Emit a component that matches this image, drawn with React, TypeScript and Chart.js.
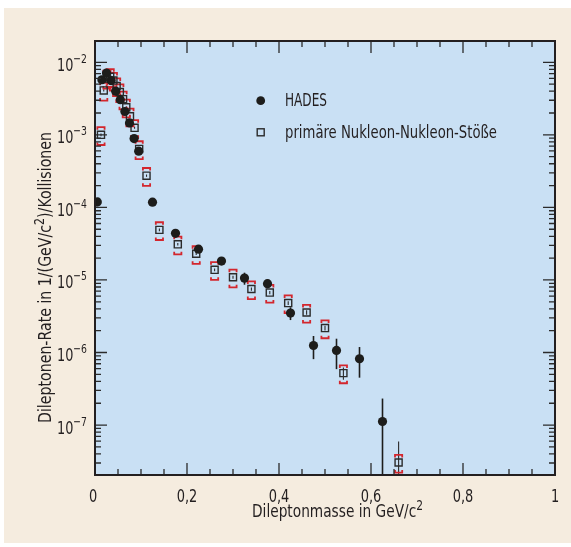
import React, { useEffect, useRef } from "react";
import { Chart, registerables } from "chart.js";

Chart.register(...registerables);

const FONT = '"Liberation Sans Narrow", "Arial Narrow", "DejaVu Sans Condensed", sans-serif';
const TEXT = "#231f20";
const PLOT_BG = "#c9e0f4";
const PAGE_BG = "#f5ecdf";
const RED = "#d3262d";
const DARK = "#1d1d1b";

// HADES measurement
const hadesMass = [0.005, 0.015, 0.025, 0.035, 0.045, 0.055, 0.065, 0.075, 0.085, 0.095, 0.125, 0.175, 0.225, 0.275, 0.325, 0.375, 0.425, 0.475, 0.525, 0.575, 0.625];
const hadesRate = [1.19e-4, 5.75e-3, 7.1e-3, 5.6e-3, 4.0e-3, 3.05e-3, 2.1e-3, 1.46e-3, 8.9e-4, 5.95e-4, 1.18e-4, 4.4e-5, 2.66e-5, 1.82e-5, 1.06e-5, 8.9e-6, 3.5e-6, 1.25e-6, 1.07e-6, 8.2e-7, 1.12e-7];
const hadesErr = [1.5e-5, 3e-4, 3e-4, 3e-4, 2e-4, 1.5e-4, 1e-4, 8e-5, 5e-5, 4e-5, 1e-5, 5e-6, 3e-6, 2e-6, 2e-6, 1.2e-6, 7e-7, 4.4e-7, 4.8e-7, 3.7e-7, 1.2e-7];

// primary nucleon-nucleon collisions (simulation)
const simMass = [0.013, 0.019, 0.026, 0.033, 0.04, 0.047, 0.054, 0.061, 0.068, 0.076, 0.086, 0.096, 0.112, 0.14, 0.18, 0.22, 0.26, 0.3, 0.34, 0.38, 0.42, 0.46, 0.5, 0.54, 0.66];
const simRate = [1.0e-3, 4.1e-3, 6.0e-3, 6.3e-3, 5.6e-3, 4.7e-3, 3.9e-3, 3.1e-3, 2.4e-3, 1.8e-3, 1.25e-3, 6.4e-4, 2.74e-4, 4.9e-5, 3.1e-5, 2.3e-5, 1.38e-5, 1.09e-5, 7.5e-6, 6.7e-6, 4.8e-6, 3.56e-6, 2.17e-6, 5.2e-7, 3.05e-8];
const simErr = [4e-5, 1.5e-4, 2e-4, 2e-4, 2e-4, 1.6e-4, 1.3e-4, 1e-4, 8e-5, 6e-5, 4e-5, 2.2e-5, 1e-5, 2e-6, 1.2e-6, 9e-7, 6e-7, 5e-7, 4e-7, 3.5e-7, 3e-7, 2.5e-7, 1.6e-7, 1e-7, 2.9e-8];
const SIM_SYS = 0.275;

const xTickValues = [0, 0.2, 0.4, 0.6, 0.8, 1];
const xTickLabels = ["0", "0,2", "0,4", "0,6", "0,8", "1"];
const yDecades = [-7, -6, -5, -4, -3, -2];
const X_MIN = 0;
const X_MAX = 1;
const Y_MIN = 2.05e-8;
const Y_MAX = 1.966e-2;

const xTitle = ["Dileptonmasse in GeV/c", "2"];
const yTitle = ["Dileptonen-Rate in 1/(GeV/c", "2", ")/Kollisionen"];
const legendLabels = ["HADES", "primäre Nukleon-Nukleon-Stöße"];

type Part = { t: string; size: number; rise: number };

function partsWidth(ctx: CanvasRenderingContext2D, parts: Part[]) {
  let w = 0;
  for (const p of parts) {
    ctx.font = `${p.size}px ${FONT}`;
    w += ctx.measureText(p.t).width;
  }
  return w;
}

// draws text parts starting at x (left) on baseline y, squeezed/stretched to target width
function drawParts(ctx: CanvasRenderingContext2D, parts: Part[], x: number, y: number, target?: number) {
  const w = partsWidth(ctx, parts);
  const sx = target ? target / w : 1;
  ctx.save();
  ctx.translate(x, y);
  ctx.scale(sx, 1);
  ctx.textAlign = "left";
  ctx.textBaseline = "alphabetic";
  ctx.fillStyle = TEXT;
  let cx = 0;
  for (const p of parts) {
    ctx.font = `${p.size}px ${FONT}`;
    ctx.fillText(p.t, cx, -p.rise);
    cx += ctx.measureText(p.t).width;
  }
  ctx.restore();
}

const SQUEEZE = 0.8;

const decor = {
  id: "decor",
  beforeDraw(chart: any) {
    const { ctx, chartArea: a } = chart;
    ctx.save();
    ctx.fillStyle = PLOT_BG;
    ctx.fillRect(a.left, a.top, a.right - a.left, a.bottom - a.top);
    ctx.restore();
  },
  beforeDatasetsDraw(chart: any) {
    const { ctx, chartArea: a } = chart;
    const xs = chart.scales.x;
    const ys = chart.scales.y;
    const yPix = (v: number) => (v <= Y_MIN ? a.bottom : ys.getPixelForValue(v));
    ctx.save();
    ctx.beginPath();
    ctx.rect(a.left, a.top, a.right - a.left, a.bottom - a.top);
    ctx.clip();
    // HADES statistical errors
    ctx.strokeStyle = DARK;
    ctx.lineWidth = 1.6;
    hadesMass.forEach((m, i) => {
      const px = xs.getPixelForValue(m);
      ctx.beginPath();
      ctx.moveTo(px, yPix(hadesRate[i] + hadesErr[i]));
      ctx.lineTo(px, yPix(hadesRate[i] - hadesErr[i]));
      ctx.stroke();
    });
    // simulation statistical errors
    ctx.strokeStyle = "#2b2b2b";
    ctx.lineWidth = 1.1;
    simMass.forEach((m, i) => {
      const px = xs.getPixelForValue(m);
      ctx.beginPath();
      ctx.moveTo(px, yPix(simRate[i] + simErr[i]));
      ctx.lineTo(px, yPix(simRate[i] - simErr[i]));
      ctx.stroke();
    });
    // simulation systematic brackets
    ctx.strokeStyle = RED;
    ctx.lineWidth = 1.8;
    simMass.forEach((m, i) => {
      const px = xs.getPixelForValue(m);
      const top = yPix(simRate[i] * (1 + SIM_SYS));
      const bot = yPix(simRate[i] * (1 - SIM_SYS));
      const hw = 3.6;
      const h = 2.6;
      ctx.beginPath();
      ctx.moveTo(px - hw, top + h);
      ctx.lineTo(px - hw, top);
      ctx.lineTo(px + hw, top);
      ctx.lineTo(px + hw, top + h);
      ctx.moveTo(px - hw, bot - h);
      ctx.lineTo(px - hw, bot);
      ctx.lineTo(px + hw, bot);
      ctx.lineTo(px + hw, bot - h);
      ctx.stroke();
    });
    ctx.restore();
  },
  afterDraw(chart: any) {
    const { ctx, chartArea: a } = chart;
    const xs = chart.scales.x;
    const ys = chart.scales.y;
    ctx.save();
    // ticks (inward)
    ctx.strokeStyle = "#2b2b2b";
    ctx.lineWidth = 1.3;
    ctx.beginPath();
    for (let d = -8; d <= -2; d++) {
      for (let m = 1; m <= 9; m++) {
        const v = m * Math.pow(10, d);
        if (v < Y_MIN || v > Y_MAX) continue;
        const py = ys.getPixelForValue(v);
        const len = m === 1 ? 12 : 6;
        ctx.moveTo(a.left, py);
        ctx.lineTo(a.left + len, py);
        ctx.moveTo(a.right, py);
        ctx.lineTo(a.right - len, py);
      }
    }
    for (let i = 0; i <= 20; i++) {
      const v = i * 0.05;
      const px = xs.getPixelForValue(v);
      const len = i % 4 === 0 ? 12 : 6;
      ctx.moveTo(px, a.bottom);
      ctx.lineTo(px, a.bottom - len);
      ctx.moveTo(px, a.top);
      ctx.lineTo(px, a.top + len);
    }
    ctx.stroke();
    // frame
    ctx.strokeStyle = "#231f20";
    ctx.lineWidth = 2;
    ctx.strokeRect(a.left, a.top, a.right - a.left, a.bottom - a.top);

    // y tick labels 10^n
    for (const t of ys.ticks) {
      const e = Math.round(Math.log10(t.value));
      const py = ys.getPixelForValue(t.value);
      const parts: Part[] = [
        { t: "10", size: 18, rise: 0 },
        { t: "\u2212" + Math.abs(e), size: 13, rise: 8 },
      ];
      drawParts(ctx, parts, 57, py + 8.5, 30);
    }

    // x tick labels
    xs.ticks.forEach((t: any, i: number) => {
      const px = xs.getPixelForValue(t.value);
      const label = xTickLabels[xTickValues.indexOf(t.value)] ?? String(t.value);
      const parts: Part[] = [{ t: label, size: 18, rise: 0 }];
      const w = partsWidth(ctx, parts) * SQUEEZE;
      drawParts(ctx, parts, px - w / 2 - (i === 0 ? 2 : 0), 502, w);
    });

    // axis titles
    drawParts(
      ctx,
      [
        { t: xTitle[0], size: 18, rise: 0 },
        { t: xTitle[1], size: 14, rise: 7 },
      ],
      252,
      516.5,
      171
    );
    ctx.save();
    ctx.translate(51, 423);
    ctx.rotate(-Math.PI / 2);
    drawParts(
      ctx,
      [
        { t: yTitle[0], size: 18, rise: 0 },
        { t: yTitle[1], size: 14, rise: 7 },
        { t: yTitle[2], size: 18, rise: 0 },
      ],
      0,
      0,
      291
    );
    ctx.restore();

    // legend
    const ds0 = chart.data.datasets[0];
    const ds1 = chart.data.datasets[1];
    ctx.fillStyle = ds0.backgroundColor;
    ctx.beginPath();
    ctx.arc(260.7, 100.7, 4.4, 0, Math.PI * 2);
    ctx.fill();
    ctx.strokeStyle = ds1.borderColor;
    ctx.lineWidth = 1.4;
    ctx.strokeRect(257.2, 128.8, 7, 7);
    drawParts(ctx, [{ t: legendLabels[0], size: 18, rise: 0 }], 285, 105.5, 42);
    drawParts(ctx, [{ t: legendLabels[1], size: 18, rise: 0 }], 285, 137.5, 212);
    ctx.restore();
  },
};

export default function App() {
  const ref = useRef<HTMLCanvasElement>(null);
  useEffect(() => {
    if (!ref.current) return;
    const chart = new Chart(ref.current, {
      type: "scatter",
      data: {
        datasets: [
          {
            label: legendLabels[0],
            data: hadesMass.map((m, i) => ({ x: m, y: hadesRate[i] })),
            pointStyle: "circle",
            pointRadius: 4.6,
            pointHoverRadius: 4.6,
            backgroundColor: DARK,
            borderColor: DARK,
            borderWidth: 0,
          },
          {
            label: legendLabels[1],
            data: simMass.map((m, i) => ({ x: m, y: simRate[i] })),
            pointStyle: "rect",
            pointRadius: 5,
            pointHoverRadius: 5,
            backgroundColor: "rgba(0,0,0,0)",
            borderColor: "#2b2b2b",
            borderWidth: 1.4,
          },
        ],
      },
      options: {
        responsive: false,
        animation: false,
        devicePixelRatio: 1,
        layout: { padding: { left: 0, top: 41, right: 16, bottom: 0 } },
        plugins: { legend: { display: false }, tooltip: { enabled: false } },
        scales: {
          x: {
            type: "linear",
            min: X_MIN,
            max: X_MAX,
            grid: { display: false },
            border: { display: false },
            afterBuildTicks: (s: any) => {
              s.ticks = xTickValues.map((v) => ({ value: v }));
            },
            ticks: { display: false },
            afterFit: (s: any) => {
              s.height = 72;
            },
          },
          y: {
            type: "logarithmic",
            min: Y_MIN,
            max: Y_MAX,
            grid: { display: false },
            border: { display: false },
            ticks: { display: false },
            afterBuildTicks: (s: any) => {
              s.ticks = yDecades.map((d) => ({ value: Math.pow(10, d) }));
            },
            afterFit: (s: any) => {
              s.width = 95;
            },
          },
        },
      },
      plugins: [decor],
    });
    return () => chart.destroy();
  }, []);

  return (
    <div style={{ position: "fixed", left: 0, top: 0, width: 571, height: 547, background: "#ffffff" }}>
      <div style={{ position: "absolute", left: 4, top: 8, width: 567, height: 535, background: PAGE_BG }} />
      <canvas ref={ref} width={571} height={547} style={{ position: "absolute", left: 0, top: 0, width: 571, height: 547 }} />
    </div>
  );
}
